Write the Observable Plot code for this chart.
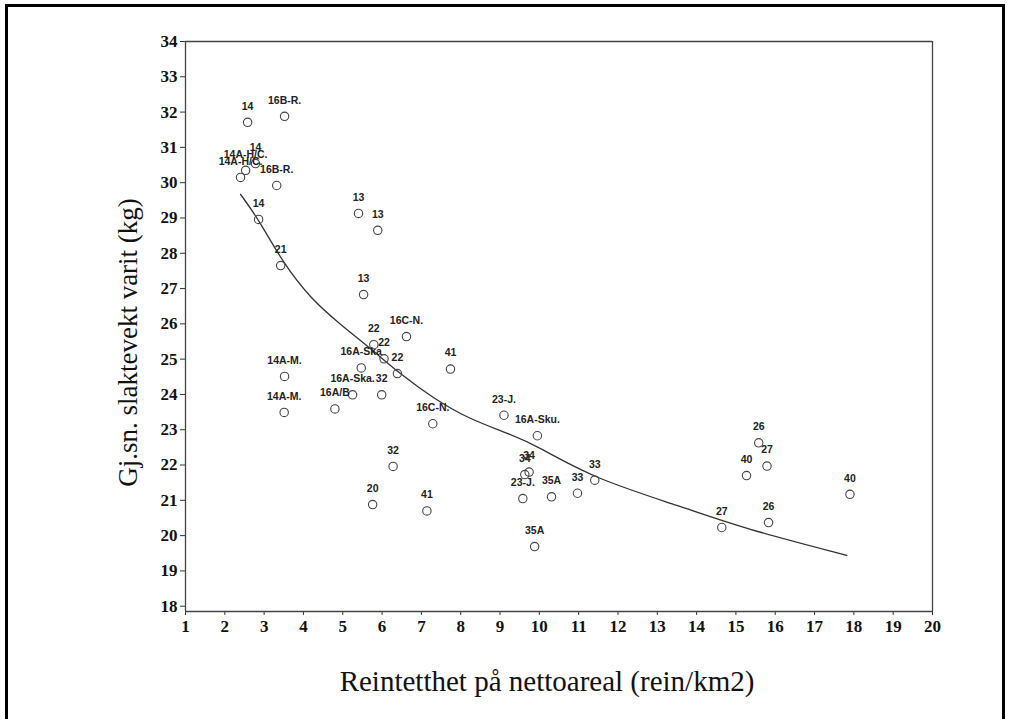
<!DOCTYPE html>
<html>
<head>
<meta charset="utf-8">
<script src="https://cdn.jsdelivr.net/npm/d3@7"></script>
<script src="https://cdn.jsdelivr.net/npm/@observablehq/plot@0.6"></script>
<style>
  html, body { margin: 0; padding: 0; background: #fff; }
  #wrap { position: relative; width: 1010px; height: 719px; overflow: hidden; }
  #border { position: absolute; left: 5px; top: 4px; width: 1000px; height: 800px;
            border: 3px solid #000; box-sizing: border-box; pointer-events: none; }
</style>
</head>
<body>
<div id="wrap"><div id="chart"></div><div id="border"></div></div>
<script>
// Point labels (district codes)
const labels = ["14","16B-R.","14","14A-H/C.","14A-H/C.","16B-R.","14","21","13","13","13",
  "22","22","22","16C-N.","41","16A-Ska","14A-M.","14A-M.","16A/B","16A-Ska.","32","16C-N.",
  "23-J.","16A-Sku.","34","34","23-J.","35A","33","33","35A","32","41","20",
  "27","26","40","27","26","40"];
// Reindeer density (rein/km2)
const density = [2.58,3.52,2.78,2.53,2.40,3.32,2.86,3.42,5.40,5.89,5.53,
  5.79,6.05,6.39,6.62,7.74,5.47,3.52,3.51,4.80,5.25,5.99,7.29,
  9.10,9.95,9.74,9.63,9.58,10.31,10.97,11.41,9.88,6.28,7.14,5.76,
  14.64,15.83,15.27,15.79,15.58,17.90];
// Average carcass weight (kg)
const weight = [31.71,31.88,30.54,30.35,30.15,29.92,28.96,27.65,29.13,28.65,26.83,
  25.41,25.01,24.59,25.64,24.72,24.75,24.51,23.49,23.59,23.99,23.99,23.17,
  23.41,22.83,21.80,21.73,21.05,21.10,21.20,21.57,19.69,21.96,20.70,20.88,
  20.23,20.37,21.70,21.97,22.63,21.17];
// Fitted curve
const curveX = [2.40,2.86,3.49,4.18,4.94,5.71,6.47,7.31,8.18,9.27,9.96,11.38,13.60,15.20,17.82];
const curveY = [29.67,28.96,27.71,26.72,25.98,25.30,24.57,23.89,23.32,22.87,22.53,21.62,20.83,20.20,19.44];
// Tick values
const xTicks = [1,2,3,4,5,6,7,8,9,10,11,12,13,14,15,16,17,18,19,20];
const yTicks = [18,19,20,21,22,23,24,25,26,27,28,29,30,31,32,33,34];

const points = labels.map((t, i) => ({label: t, x: density[i], y: weight[i]}));
const curve = curveX.map((x, i) => ({x, y: curveY[i]}));

const serif = "'Liberation Serif', 'Times New Roman', serif";
const sans = "'Liberation Sans', Arial, sans-serif";

const chart = Plot.plot({
  width: 1010,
  height: 719,
  marginLeft: 185,
  marginRight: 78,
  marginTop: 41,
  marginBottom: 108,
  style: {background: "#fff", color: "#111"},
  x: {domain: [1, 20]},
  y: {domain: [17.85, 34]},
  marks: [
    Plot.axisY({ticks: yTicks, tickSize: 5, tickPadding: 3, label: null,
      fontSize: 17, fontWeight: "bold", fontFamily: serif, stroke: "#333"}),
    Plot.axisX({ticks: xTicks, tickSize: 4, tickPadding: 4, label: null,
      fontSize: 17, fontWeight: "bold", fontFamily: serif, stroke: "#333"}),
    Plot.ruleX([1, 20], {stroke: "#444", strokeWidth: 1.3}),
    Plot.ruleY([17.85, 34], {stroke: "#444", strokeWidth: 1.3}),
    Plot.line(curve, {x: "x", y: "y", stroke: "#333", strokeWidth: 1.3, curve: "basis"}),
    Plot.dot(points, {x: "x", y: "y", r: 4.2, stroke: "#444", strokeWidth: 1.1, fill: "none"}),
    Plot.text(points, {x: "x", y: "y", text: "label", dy: -16, fontSize: 10.5,
      fontWeight: "bold", fontFamily: sans, fill: "#222"}),
    Plot.text(["Gj.sn. slaktevekt varit (kg)"], {frameAnchor: "left", textAnchor: "middle",
      rotate: -90, dx: -57, dy: 16, fontSize: 27, fontFamily: serif, fill: "#111"}),
    Plot.text(["Reintetthet på nettoareal (rein/km2)"], {frameAnchor: "bottom", textAnchor: "middle",
      dy: 79, dx: -12, fontSize: 29, fontFamily: serif, fill: "#111"})
  ]
});
document.getElementById("chart").appendChild(chart);
</script>
</body>
</html>
